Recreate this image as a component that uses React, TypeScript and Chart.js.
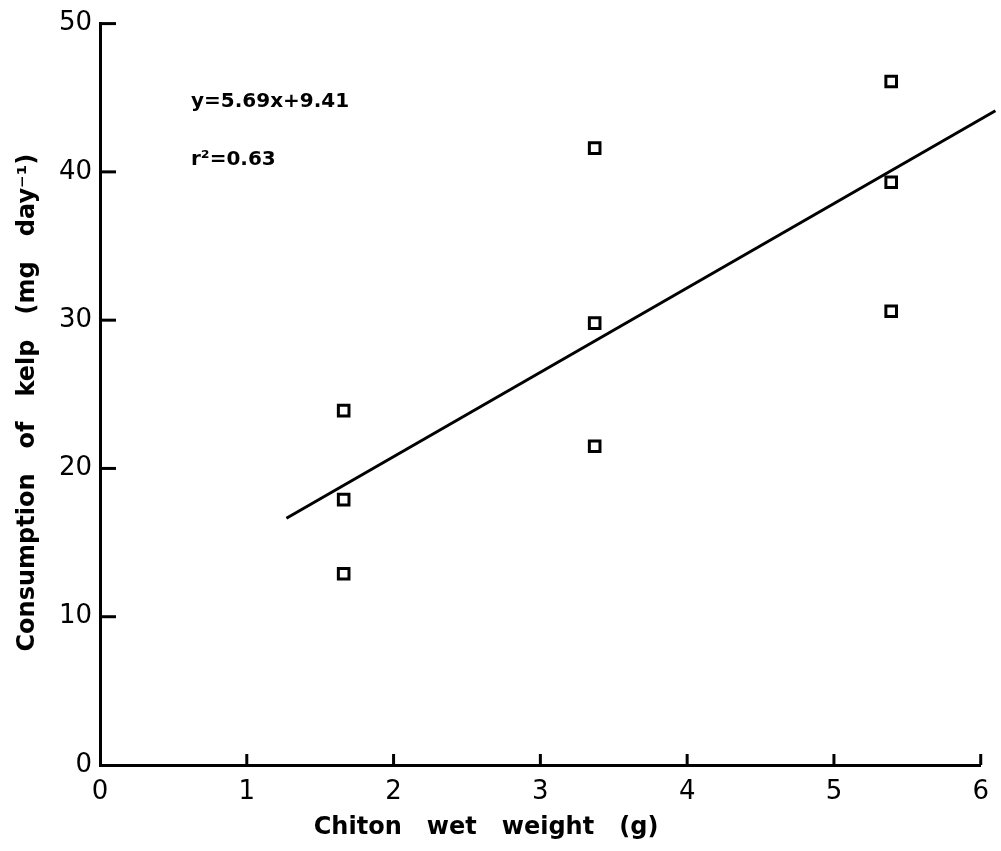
import React, { useEffect, useRef } from "react";
import { Chart, registerables } from "chart.js";

Chart.register(...registerables);

const pointX = [1.66, 1.66, 1.66, 3.37, 3.37, 3.37, 5.39, 5.39, 5.39];
const pointY = [23.9, 17.9, 12.9, 41.6, 29.8, 21.5, 46.1, 39.3, 30.6];
const fitSlope = 5.69;
const fitIntercept = 9.41;
const fitX = [1.27, 6.1];
const xTicks = [0, 1, 2, 3, 4, 5, 6];
const yTicks = [0, 10, 20, 30, 40, 50];
const eqLines = ["y=5.69x+9.41", "r²=0.63"];
const eqPosX = 0.62;
const eqPosY = [44.7, 40.8];

const FONT = "'DejaVu Sans', 'Liberation Sans', sans-serif";

const innerTicks = {
  id: "innerTicks",
  afterDraw(chart: any) {
    const ctx = chart.ctx;
    const xs = chart.scales.x;
    const ys = chart.scales.y;
    ctx.save();
    ctx.strokeStyle = "#000";
    ctx.lineWidth = 3;
    ctx.lineCap = "butt";
    xTicks.forEach((v) => {
      if (v === 0) return;
      const px = xs.getPixelForValue(v);
      ctx.beginPath();
      ctx.moveTo(px, ys.bottom);
      ctx.lineTo(px, ys.bottom - 11);
      ctx.stroke();
    });
    yTicks.forEach((v) => {
      if (v === 0) return;
      const py = ys.getPixelForValue(v);
      ctx.beginPath();
      ctx.moveTo(xs.left, py);
      ctx.lineTo(xs.left + 16, py);
      ctx.stroke();
    });
    ctx.fillStyle = "#000";
    ctx.font = `bold 20px ${FONT}`;
    ctx.textAlign = "left";
    ctx.textBaseline = "middle";
    const tx = xs.getPixelForValue(eqPosX);
    eqLines.forEach((t, i) => {
      ctx.fillText(t, tx, ys.getPixelForValue(eqPosY[i]));
    });
    ctx.restore();
  },
};

export default function App() {
  const ref = useRef<HTMLCanvasElement>(null);
  useEffect(() => {
    document.body.style.margin = "0";
    const scatter = pointX.map((x, i) => ({ x, y: pointY[i] }));
    const fit = fitX.map((x) => ({ x, y: fitSlope * x + fitIntercept }));
    const chart = new Chart(ref.current!, {
      type: "scatter",
      data: {
        datasets: [
          {
            type: "line",
            data: fit,
            borderColor: "#000",
            borderWidth: 3,
            pointRadius: 0,
            fill: false,
            clip: false,
          } as any,
          {
            data: scatter,
            pointStyle: "rect",
            pointRadius: 7.5,
            borderColor: "#000",
            borderWidth: 3,
            backgroundColor: "#fff",
          },
        ],
      },
      options: {
        animation: false,
        responsive: false,
        layout: { padding: { top: 18, right: 5, left: 0, bottom: 0 } },
        plugins: { legend: { display: false }, tooltip: { enabled: false } },
        scales: {
          x: {
            type: "linear",
            min: 0,
            max: 6,
            afterFit: (s: any) => {
              s.height = 86;
            },
            afterBuildTicks: (s: any) => {
              s.ticks = xTicks.map((v) => ({ value: v }));
            },
            grid: { display: false, drawTicks: false },
            border: { display: true, color: "#000", width: 3 },
            ticks: {
              color: "#000",
              font: { family: FONT, size: 26 },
              padding: 12,
              maxRotation: 0,
            },
            title: {
              display: true,
              text: "Chiton   wet   weight   (g)" + " ".repeat(13),
              color: "#000",
              font: { family: FONT, size: 24, weight: "bold" },
              padding: { top: 0, bottom: 9 },
            },
          },
          y: {
            type: "linear",
            min: 0,
            max: 50,
            afterFit: (s: any) => {
              s.width = 100;
            },
            afterBuildTicks: (s: any) => {
              s.ticks = yTicks.map((v) => ({ value: v }));
            },
            grid: { display: false, drawTicks: false },
            border: { display: true, color: "#000", width: 3 },
            ticks: {
              color: "#000",
              font: { family: FONT, size: 26 },
              padding: 8,
            },
            title: {
              display: true,
              text: "Consumption   of   kelp   (mg   day⁻¹)" + "  ",
              color: "#000",
              font: { family: FONT, size: 24, weight: "bold" },
              padding: { top: 13, bottom: 0 },
            },
          },
        },
      },
      plugins: [innerTicks],
    });
    return () => chart.destroy();
  }, []);
  return (
    <div style={{ position: "absolute", left: 0, top: 0, width: 1001, height: 851, background: "#fff" }}>
      <canvas ref={ref} width={1001} height={851} />
    </div>
  );
}
